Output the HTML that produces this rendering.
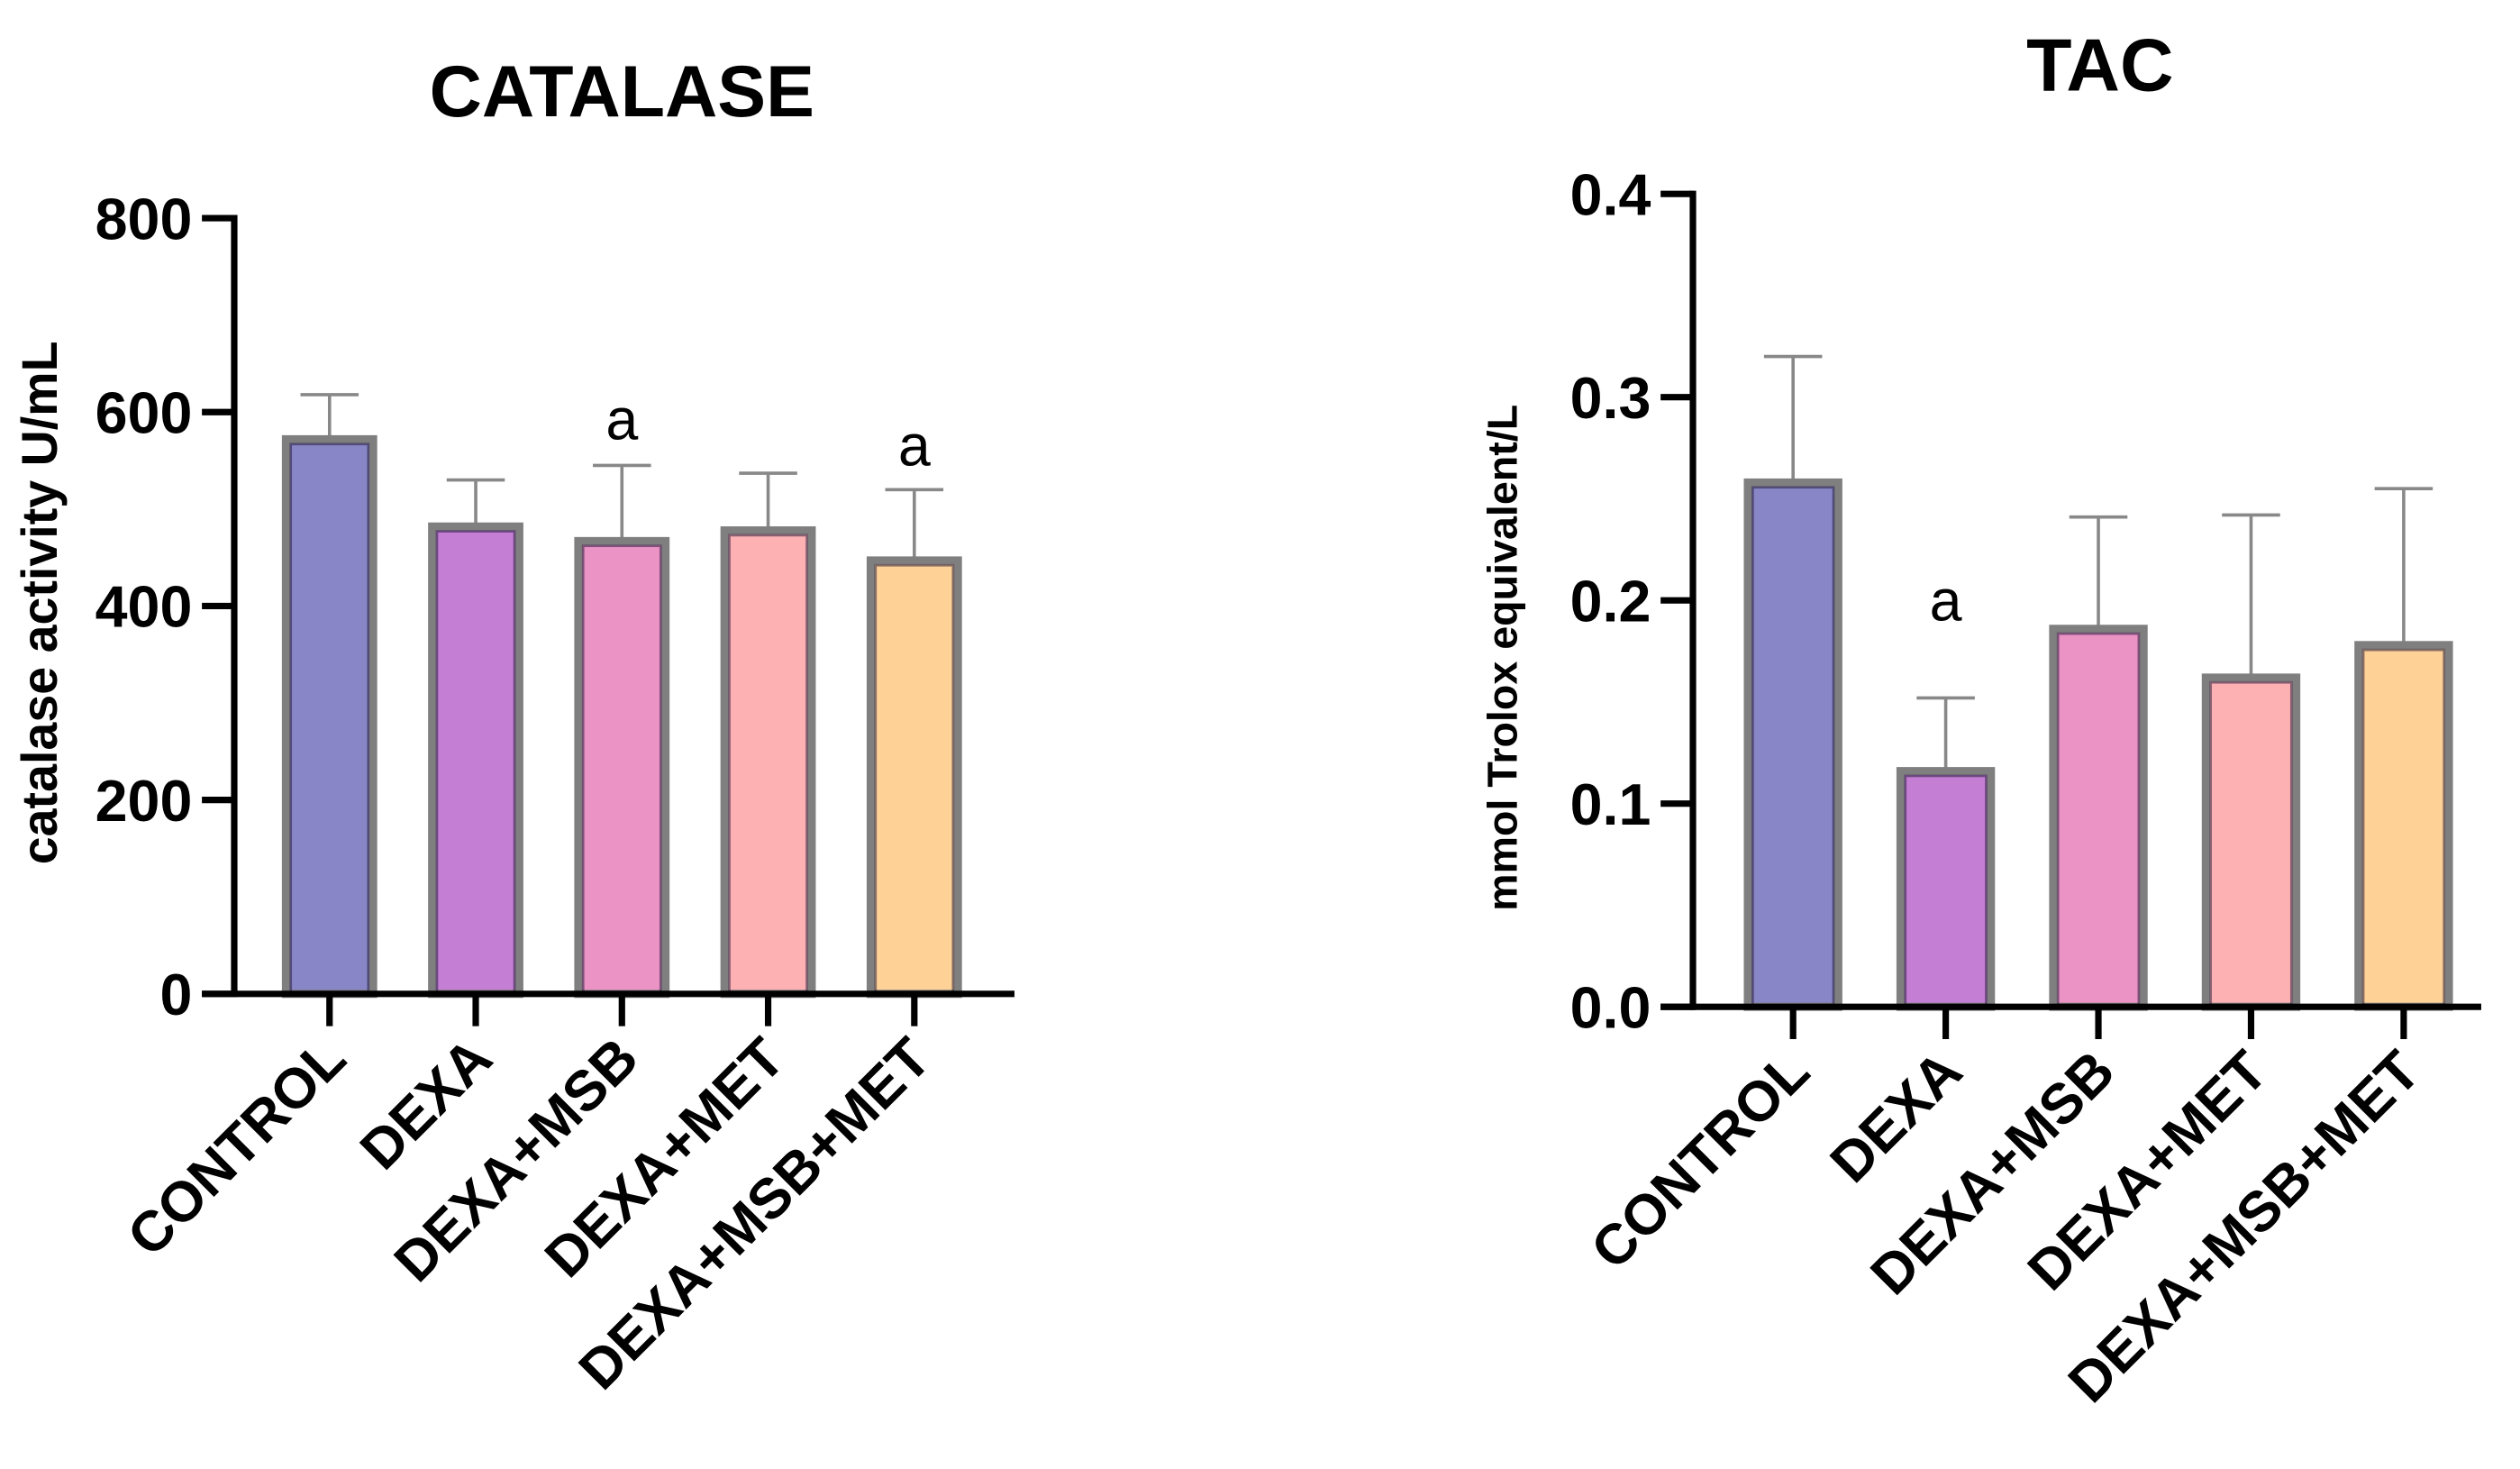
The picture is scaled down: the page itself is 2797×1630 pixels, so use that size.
<!DOCTYPE html>
<html><head><meta charset="utf-8"><style>
html,body{margin:0;padding:0;background:#fff;}
svg{display:block;}
text{font-family:"Liberation Sans",Arial,sans-serif;}
</style></head><body>
<svg id="fig" width="2797" height="1630" viewBox="0 0 1560 909" preserveAspectRatio="none" xmlns="http://www.w3.org/2000/svg"></svg>
<script>
const categories = ["CONTROL","DEXA","DEXA+MSB","DEXA+MET","DEXA+MSB+MET"];
const colors = ["#8886c6","#c47fd4","#ec93c6","#fdb1b3","#fed196"];
const catalaseMeans = [572,482,467,478,447];
const catalaseErr = [46,48,78,59,73];
const catalaseTicks = [0,200,400,600,800];
const catalaseLetters = ["","","a","","a"];
const tacMeans = [0.258,0.116,0.186,0.162,0.178];
const tacErr = [0.062,0.036,0.055,0.080,0.077];
const tacTicks = [0,0.1,0.2,0.3,0.4];
const tacTickLabels = ["0.0","0.1","0.2","0.3","0.4"];
const tacLetters = ["","a","","",""];

const NS="http://www.w3.org/2000/svg";
const svg=document.getElementById('fig');
function el(tag,attrs,parent){const e=document.createElementNS(NS,tag);for(const k in attrs)e.setAttribute(k,attrs[k]);(parent||svg).appendChild(e);return e;}

function drawChart(cfg){
  const g=el('g',{});
  
  
  const y=v=>cfg.y0+(cfg.y1-cfg.y0)*(v-cfg.min)/(cfg.max-cfg.min);
  const x=i=>cfg.xStart+i*cfg.step;
  const t=el('text',{x:cfg.titleX,y:cfg.titleY,'font-size':cfg.titleSize,'font-weight':'bold','text-anchor':'middle'},g);
  t.textContent=cfg.title;
  
  
  const yl=el('text',{x:0,y:0,'font-size':cfg.ylSize,'font-weight':'bold','text-anchor':'middle',transform:`translate(${cfg.ylX},${cfg.ylY}) rotate(-90)`},g);
  yl.textContent=cfg.ylabel;
  
  
  cfg.means.forEach((m,i)=>{
    const cx=x(i), w=cfg.barW;
    const top=y(m+cfg.err[i]);
    const eb=el('g',{},g);
    
    
    el('line',{x1:cx,x2:cx,y1:y(m),y2:top,stroke:'#888','stroke-width':2},eb);
    el('line',{x1:cx-18,x2:cx+18,y1:top,y2:top,stroke:'#888','stroke-width':2},eb);
    const r=el('rect',{x:cx-w/2,y:y(m),width:w,height:cfg.y0-y(m),fill:colors[i],stroke:'#7f7f7f','stroke-width':5},g);
    
    
    el('rect',{x:cx-w/2+3,y:y(m)+3,width:w-6,height:cfg.y0-y(m)-3,fill:'none',stroke:'rgba(40,30,60,0.55)','stroke-width':1.5},g);
    if(cfg.letters[i]){
      const lt=el('text',{x:cx,y:cfg.letterY[i],'font-size':36,'text-anchor':'middle'},g);
      lt.textContent=cfg.letters[i];
      
      
    }
    el('line',{x1:cx,x2:cx,y1:cfg.y0,y2:cfg.y0+20,stroke:'#000','stroke-width':4},g);
    const cl=el('text',{x:0,y:0,'font-size':35,'font-weight':'bold','text-anchor':'end',transform:`translate(${cx+12},${cfg.y0+42}) rotate(-45)`},g);
    cl.textContent=categories[i];
    
    
  });
  const ax=el('g',{},g);
  
  
  el('line',{x1:cfg.axisX,x2:cfg.axisX,y1:cfg.y1-2,y2:cfg.y0+2,stroke:'#000','stroke-width':4},ax);
  el('line',{x1:cfg.axisX-20,x2:cfg.xEnd,y1:cfg.y0,y2:cfg.y0,stroke:'#000','stroke-width':4},ax);
  cfg.ticks.forEach((tv,j)=>{
    el('line',{x1:cfg.axisX-20,x2:cfg.axisX,y1:y(tv),y2:y(tv),stroke:'#000','stroke-width':4},ax);
    const tl=el('text',{x:cfg.axisX-26,y:y(tv)+13,'font-size':36,'font-weight':'bold','text-anchor':'end'},ax);
    tl.textContent=cfg.tickLabels[j];
    
    
  });
}

drawChart({name:'catalase-chart',title:'CATALASE',titleX:385,titleY:72,titleSize:45,ylabel:'catalase activity U/mL',ylSize:31,ylX:35,ylY:373,
  means:catalaseMeans,err:catalaseErr,letters:catalaseLetters,letterY:[0,0,272,0,288],
  ticks:catalaseTicks,tickLabels:catalaseTicks.map(String),min:0,max:800,y0:615,y1:135,
  axisX:145,xStart:204,step:90.5,barW:54,xEnd:628});
drawChart({name:'tac-chart',title:'TAC',titleX:1300,titleY:56,titleSize:46,ylabel:'mmol Trolox equivalent/L',ylSize:26,ylX:939,ylY:407,
  means:tacMeans,err:tacErr,letters:tacLetters,letterY:[0,384,0,0,0],
  ticks:tacTicks,tickLabels:tacTickLabels,min:0,max:0.4,y0:623,y1:120,
  axisX:1048,xStart:1110,step:94.5,barW:56,xEnd:1536});
</script>
</body></html>
